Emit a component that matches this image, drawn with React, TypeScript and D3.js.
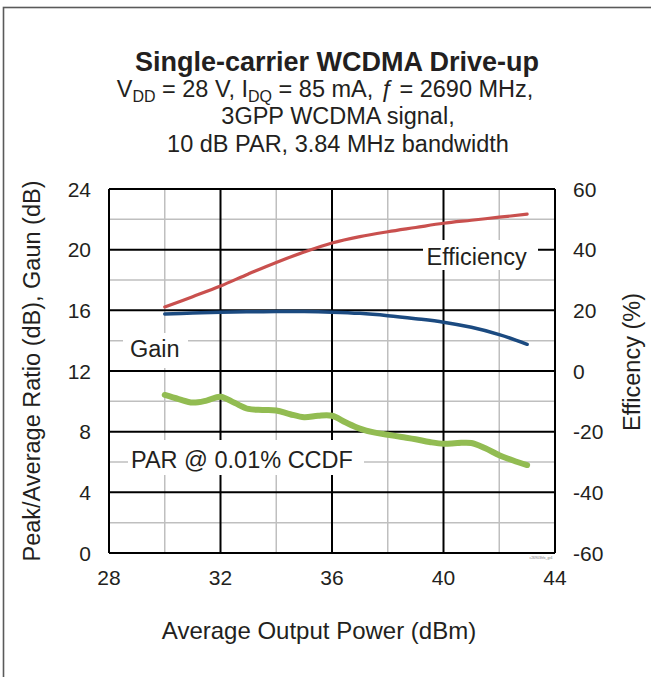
import React from "react";
import * as d3 from "d3";

const xTicks = [28, 32, 36, 40, 44];
const leftTicks = [0, 4, 8, 12, 16, 20, 24];
const rightTicks = [-60, -40, -20, 0, 20, 40, 60];
const xMinor = [30, 34, 38, 42];
const leftMinor = [2, 6, 10, 14, 18, 22];

const effX = [30, 31, 32, 33, 34, 35, 36, 37, 38, 39, 40, 41, 42, 43];
const effY = [21.1, 24.5, 28.0, 32.0, 35.8, 39.2, 42.2, 44.3, 45.9, 47.3, 48.7, 49.7, 50.7, 51.7];

const gainX = [30, 31, 32, 33, 34, 35, 36, 37, 38, 39, 40, 41, 42, 43];
const gainY = [15.76, 15.82, 15.87, 15.9, 15.92, 15.92, 15.88, 15.8, 15.65, 15.45, 15.22, 14.88, 14.4, 13.76];

const parX = [30, 30.5, 31, 31.5, 32, 32.5, 33, 33.5, 34, 34.5, 35, 35.5, 36, 36.5, 37, 37.5, 38, 38.5, 39, 39.5, 40, 40.5, 41, 41.5, 42, 42.5, 43];
const parY = [10.42, 10.15, 9.92, 10.05, 10.3, 9.9, 9.5, 9.43, 9.4, 9.15, 8.95, 9.05, 9.05, 8.6, 8.2, 7.95, 7.8, 7.65, 7.5, 7.32, 7.2, 7.25, 7.25, 6.9, 6.45, 6.1, 5.8];

const FONT = "'Liberation Sans', Arial, Helvetica, sans-serif";

export default function App() {
  const W = 651, H = 677;
  const L = 109, R = 555, T = 189, B = 553;
  const x = d3.scaleLinear().domain([28, 44]).range([L, R]);
  const yL = d3.scaleLinear().domain([0, 24]).range([B, T]);
  const yR = d3.scaleLinear().domain([-60, 60]).range([B, T]);

  const mk = (xs: number[], ys: number[], ys2: (v: number) => number) =>
    d3.line<number>()
      .x((_, i) => x(xs[i]))
      .y((d) => ys2(d))
      .curve(d3.curveCatmullRom.alpha(0.5))(ys) || "";

  const effPath = mk(effX, effY, yR);
  const gainPath = mk(gainX, gainY, yL);
  const parPath = mk(parX, parY, yL);

  const text = "#231f20";

  return (
    <svg width={W} height={H} style={{ position: "absolute", left: 0, top: 0, background: "#fff" }} fontFamily={FONT}>
      <rect x={0} y={0} width={W} height={H} fill="#fff" />
      <rect x={3.5} y={7.5} width={W + 20} height={H + 20} fill="none" stroke="#5a5a5a" strokeWidth={1.6} />

      {/* Title */}
      <text x={337} y={71} textAnchor="middle" fontSize={27} fontWeight="bold" fill={text}>Single-carrier WCDMA Drive-up</text>
      <text x={325} y={96.5} textAnchor="middle" fontSize={23.5} fill={text}>
        <tspan>V</tspan><tspan fontSize={16} dy={5}>DD</tspan><tspan dy={-5}> = 28 V, I</tspan><tspan fontSize={16} dy={5}>DQ</tspan><tspan dy={-5}> = 85 mA, </tspan><tspan fontStyle="italic">ƒ</tspan><tspan> = 2690 MHz,</tspan>
      </text>
      <text x={338} y={124} textAnchor="middle" fontSize={23.5} fill={text}>3GPP WCDMA signal,</text>
      <text x={338} y={151.5} textAnchor="middle" fontSize={23.5} fill={text}>10 dB PAR, 3.84 MHz bandwidth</text>

      {/* minor grid */}
      {leftMinor.map((v) => (
        <line key={"hm" + v} x1={L} x2={R} y1={yL(v)} y2={yL(v)} stroke="#bfbfbf" strokeWidth={1.5} />
      ))}
      {xMinor.map((v) => (
        <line key={"vm" + v} x1={x(v)} x2={x(v)} y1={T} y2={B} stroke="#bfbfbf" strokeWidth={1.5} />
      ))}
      {/* major grid */}
      {leftTicks.map((v) => (
        <line key={"hM" + v} x1={L} x2={R} y1={yL(v)} y2={yL(v)} stroke="#000" strokeWidth={2} />
      ))}
      {xTicks.map((v) => (
        <line key={"vM" + v} x1={x(v)} x2={x(v)} y1={T} y2={B} stroke="#000" strokeWidth={2} />
      ))}

      {/* label boxes */}
      <rect x={423} y={240} width={115} height={30} fill="#fff" />
      <rect x={123} y={333} width={65} height={35} fill="#fff" />
      <rect x={128} y={440} width={236} height={35} fill="#fff" />

      {/* series */}
      <path d={effPath} fill="none" stroke="#c9504e" strokeWidth={3.2} strokeLinecap="round" />
      <path d={gainPath} fill="none" stroke="#1b4a80" strokeWidth={3.5} strokeLinecap="round" />
      <path d={parPath} fill="none" stroke="#92bc52" strokeWidth={6} strokeLinecap="round" strokeLinejoin="round" />

      {/* labels */}
      <text x={426.5} y={264.5} fontSize={23.5} fill={text}>Efficiency</text>
      <text x={130} y={357} fontSize={23.5} fill={text}>Gain</text>
      <text x={131} y={467.5} fontSize={23.5} fill={text}>PAR @ 0.01% CCDF</text>

      {/* ticks */}
      {leftTicks.map((v) => (
        <text key={"lt" + v} x={91} y={yL(v) + 7.5} textAnchor="end" fontSize={21} fill={text}>{v}</text>
      ))}
      {rightTicks.map((v) => (
        <text key={"rt" + v} x={573} y={yR(v) + 7.5} textAnchor="start" fontSize={21} fill={text}>{v}</text>
      ))}
      {xTicks.map((v) => (
        <text key={"xt" + v} x={x(v)} y={585} textAnchor="middle" fontSize={21} fill={text}>{v}</text>
      ))}

      <text x={541} y={559} textAnchor="middle" fontSize={3.5} fill="#777">c26903hfx_gr4</text>

      {/* axis titles */}
      <text x={319} y={639} textAnchor="middle" fontSize={24} fill={text}>Average Output Power (dBm)</text>
      <text transform="translate(40,371) rotate(-90)" textAnchor="middle" fontSize={23.5} fill={text}>Peak/Average Ratio (dB), Gaun (dB)</text>
      <text transform="translate(640,362) rotate(-90)" textAnchor="middle" fontSize={23.5} fill={text}>Efficency (%)</text>
    </svg>
  );
}
